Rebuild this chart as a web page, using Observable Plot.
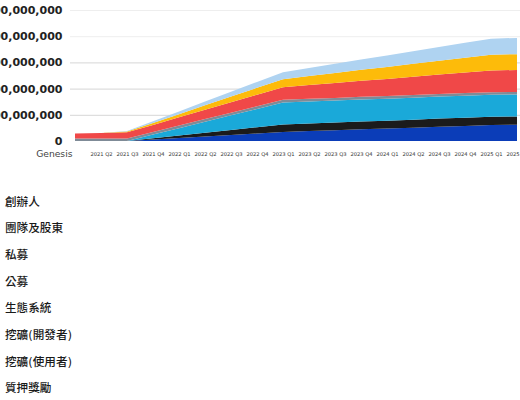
<!DOCTYPE html>
<html><head><meta charset="utf-8">
<script src="https://cdn.jsdelivr.net/npm/d3@7"></script>
<script src="https://cdn.jsdelivr.net/npm/@observablehq/plot@0.6"></script>
<style>
html,body{margin:0;padding:0;background:#fff;width:520px;height:400px;overflow:hidden;position:relative;font-family:"DejaVu Sans",sans-serif;}
#chart{position:absolute;left:0;top:0;}
#chart svg{max-width:none;}
#legend{position:absolute;left:5px;top:188.6px;font-family:"DejaVu Sans","Noto Sans CJK TC","Noto Sans CJK SC",sans-serif;font-size:11.6px;font-weight:500;color:#1a1a1a;}
#legend div{height:26.7px;line-height:26.7px;white-space:nowrap;}
</style></head><body>
<div id="chart"></div><div id="legend"></div>
<script>
const quarters = ["Genesis","2021 Q2","2021 Q3","2021 Q4","2022 Q1","2022 Q2","2022 Q3","2022 Q4","2023 Q1","2023 Q2","2023 Q3","2023 Q4","2024 Q1","2024 Q2","2024 Q3","2024 Q4","2025 Q1","2025 Q2"];
const seriesNames = ["創辦人","團隊及股東","私募","公募","生態系統","挖礦(開發者)","挖礦(使用者)","質押獎勵"];
const colors = ["#0b3db8","#1b1b1b","#1aa9d9","#7f8b97","#f04848","#fdbb0a","#afd3f1","#9ccc65"];
const founders    = [0,0,0,11e6,23e6,34e6,46e6,57e6,69e6,76e6,82e6,89e6,95e6,102e6,109e6,115e6,122e6,124e6];
const team        = [0,0,0,10e6,19e6,29e6,38e6,48e6,57e6,58e6,59e6,60e6,60e6,61e6,62e6,63e6,63e6,63e6];
const privateSale = [0,0,0,28e6,56e6,84e6,112e6,140e6,168e6,168e6,168e6,168e6,168e6,168e6,168e6,168e6,168e6,168e6];
const publicSale  = [20e6,20e6,20e6,20e6,20e6,20e6,20e6,20e6,20e6,20e6,20e6,20e6,20e6,20e6,20e6,20e6,20e6,20e6];
const ecosystem   = [38e6,42e6,46e6,54e6,63e6,72e6,80e6,89e6,97e6,105e6,114e6,123e6,131e6,140e6,148e6,157e6,166e6,167e6];
const miningDev   = [0,0,6e6,15e6,24e6,34e6,43e6,52e6,61e6,69e6,76e6,83e6,91e6,98e6,105e6,113e6,120e6,121e6];
const miningUser  = [0,0,4e6,12e6,21e6,29e6,37e6,45e6,53e6,62e6,71e6,79e6,88e6,96e6,105e6,114e6,122e6,124e6];
const staking     = [0,0,0,0,0,0,0,0,0,0,0,0,0,0,0,0,0,0];
const yTicks = [0,200000000,400000000,600000000,800000000,1000000000];

const seriesValues = [founders, team, privateSale, publicSale, ecosystem, miningDev, miningUser, staking];
const rows = seriesNames.flatMap((s, i) => quarters.map((q, j) => ({quarter: q, series: s, value: seriesValues[i][j]})));
const gridDark = yTicks.filter(d => d > 0 && d <= 600000000);
const gridLight = yTicks.filter(d => d > 600000000);

const chart = Plot.plot({
  width: 560, height: 170,
  marginLeft: 70, marginRight: 37.8, marginTop: 10, marginBottom: 29,
  x: {type: "point", domain: quarters, padding: 0, label: null},
  y: {domain: [0, 1000000000], label: null},
  color: {domain: seriesNames, range: colors},
  style: {fontFamily: "DejaVu Sans", background: "white"},
  marks: [
    Plot.ruleY(gridLight, {stroke: "#eeeeee", strokeWidth: 1}),
    Plot.ruleY(gridDark, {stroke: "#d6d6d6", strokeWidth: 1}),
    Plot.areaY(rows, {x: "quarter", y: "value", z: "series", fill: "series"}),
    Plot.axisY({ticks: yTicks, tickFormat: d3.format(","), tickSize: 0, tickPadding: 8, fontSize: 11, fontWeight: "bold", fill: "#222"}),
    Plot.axisX({tickSize: 0, tickPadding: 11, fontSize: 5.2, fill: "#333", tickFormat: d => d === "Genesis" ? "" : d}),
    Plot.text([{q: "Genesis", v: 0}], {x: "q", y: "v", text: "q", dy: 13, dx: -3, textAnchor: "end", fontSize: 9.2, fill: "#444"})
  ]
});
document.getElementById("chart").appendChild(chart);
const legend = document.getElementById("legend");
seriesNames.forEach(s => { const d = document.createElement("div"); d.textContent = s; legend.appendChild(d); });
</script>
</body></html>
